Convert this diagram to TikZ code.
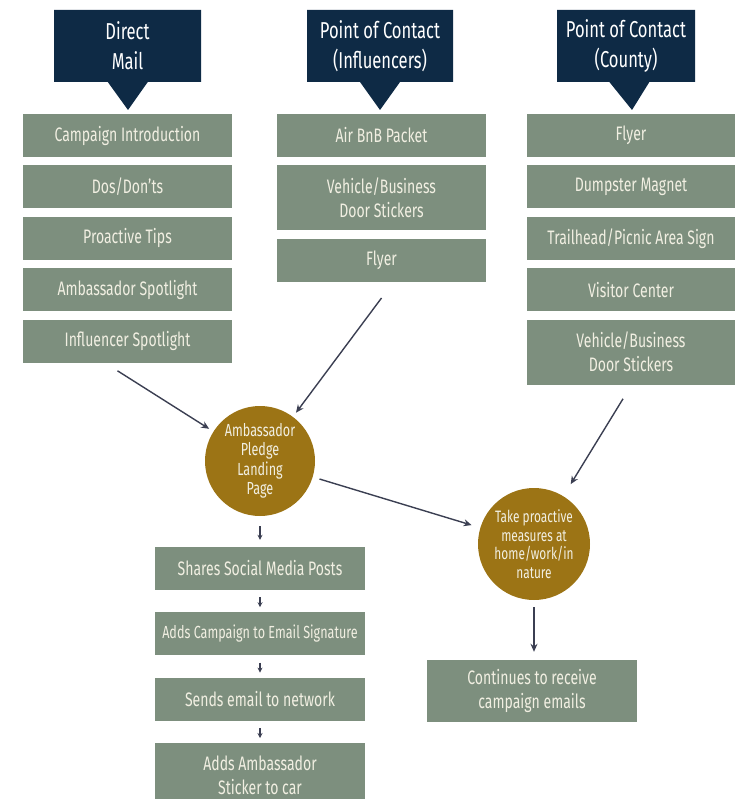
\documentclass[tikz,border=0pt]{standalone}
\usepackage{fontspec}
\setmainfont{Fira Sans}[FakeStretch=0.72]
\usepackage{tikz}
\usetikzlibrary{shapes,arrows,positioning,calc,arrows.meta}

\definecolor{navy}{HTML}{0E2A45}
\definecolor{sage}{HTML}{7D8F7E}
\definecolor{gold}{HTML}{9C7415}
\definecolor{cream}{HTML}{F1EFE2}
\definecolor{linegray}{HTML}{3B3F52}

\begin{document}
\begin{tikzpicture}[x=1pt, y=-1pt,
    head/.style={rectangle callout, fill=navy, text=white, minimum height=72pt, callout pointer width=40pt, align=center, inner sep=0pt, font=\fontsize{23}{30}\selectfont},
    item/.style={fill=sage, text=cream, minimum width=209pt, minimum height=43pt, align=center, inner sep=0pt, font=\fontsize{19.5}{24}\selectfont},
    tall/.style={item, minimum height=65pt},
    hub/.style={circle, fill=gold, text=cream, align=center, inner sep=0pt},
    arr/.style={draw=linegray, line width=1.4pt, -{Stealth[length=8pt,width=7pt]}},
    tick/.style={draw=linegray, line width=1.1pt, -{Stealth[length=5pt,width=5pt]}}]

    \useasboundingbox (0,0) rectangle (737,799);

    % headers
    \coordinate (dm tip) at (128,110);
    \coordinate (inf tip) at (380,110);
    \coordinate (cty tip) at (632,110);
    \node[head, minimum width=147pt, callout absolute pointer={(dm tip)}] (dm) at (127.5,46) {Direct\\Mail};
    \node[head, minimum width=146pt, callout absolute pointer={(inf tip)}] (inf) at (380,46) {Point of Contact\\(Influencers)};
    \node[head, minimum width=138pt, callout absolute pointer={(cty tip)}] (cty) at (626,46) {Point of Contact\\(County)};

    % direct mail column
    \node[item] (cintro) at (127.5,135.5) {Campaign Introduction};
    \node[item, below=8pt of cintro] (dosdonts) {Dos/Don'ts};
    \node[item, below=8pt of dosdonts] (ptips) {Proactive Tips};
    \node[item, below=8pt of ptips] (ambspot) {Ambassador Spotlight};
    \node[item, below=8pt of ambspot] (inflspot) {Influencer Spotlight};

    % influencers column
    \node[item] (airbnb) at (381.5,135.5) {Air BnB Packet};
    \node[tall, below=8pt of airbnb] (mvehicle) {Vehicle/Business\\Door Stickers};
    \node[item, below=8pt of mvehicle] (mflyer) {Flyer};

    % county column
    \node[item, minimum width=208pt] (cflyer) at (631,135.5) {Flyer};
    \node[item, minimum width=208pt, below=8pt of cflyer] (dumpster) {Dumpster Magnet};
    \node[item, minimum width=208pt, below=8pt of dumpster] (trailhead) {Trailhead/Picnic Area Sign};
    \node[item, minimum width=208pt, below=8pt of trailhead] (visitor) {Visitor Center};
    \node[tall, minimum width=208pt, below=8pt of visitor] (cvehicle) {Vehicle/Business\\Door Stickers};

    % hubs
    \node[hub, minimum size=110pt, font=\fontsize{17.5}{19.5}\selectfont] (pledge) at (260,461) {Ambassador\\Pledge\\Landing\\Page};
    \node[hub, minimum size=112pt, font=\fontsize{16.5}{18.5}\selectfont] (measures) at (534,544) {Take proactive\\measures at\\home/work/in\\nature};

    % actions
    \node[item, minimum width=210pt] (shares) at (260,568.5) {Shares Social Media Posts};
    \node[item, minimum width=210pt, below=22pt of shares, font=\fontsize{17.5}{24}\selectfont] (emailsig) {Adds Campaign to Email Signature};
    \node[item, minimum width=210pt, below=22pt of emailsig] (sendmail) {Sends email to network};
    \node[tall, minimum width=210pt, below=22pt of sendmail] (sticker) {Adds Ambassador\\Sticker to car};
    \node[item, minimum width=210pt, minimum height=62pt] (receive) at (532,691) {Continues to receive\\campaign emails};

    % connectors
    \draw[arr, shorten >=5pt] ([xshift=-10pt,yshift=-8pt]inflspot.south) -- (pledge);
    \draw[arr, shorten >=5pt] ([yshift=-16pt]mflyer.south) -- (pledge);
    \draw[arr, shorten <=7pt, shorten >=9pt] (pledge) -- (measures);
    \draw[arr, shorten >=14pt] ([xshift=-8pt,yshift=-14pt]cvehicle.south) -- (measures);
    \draw[arr, shorten <=7pt, shorten >=8pt] (measures.south) -- (measures.south |- receive.north);
    \draw[tick, shorten <=10pt, shorten >=7pt] (pledge) -- (shares);
    \foreach \a/\b in {shares/emailsig, emailsig/sendmail, sendmail/sticker}
        \draw[tick, shorten <=7pt, shorten >=5pt] (\a) -- (\b);
\end{tikzpicture}
\end{document}
